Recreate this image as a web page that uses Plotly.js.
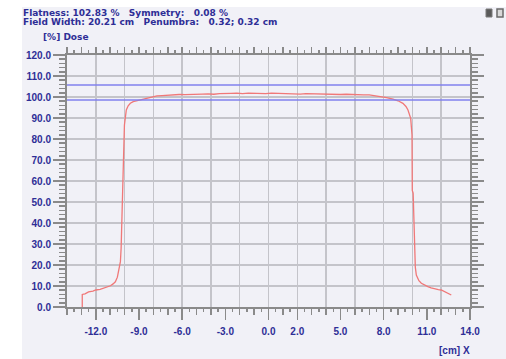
<!DOCTYPE html>
<html>
<head>
<meta charset="utf-8">
<script src="https://cdn.plot.ly/plotly-3.0.1.min.js"></script>
<style>
  html, body { margin: 0; padding: 0; background: #ffffff; }
  #chart { width: 506px; height: 359px; }
</style>
</head>
<body>
<div id="chart"></div>
<script>
// Beam profile: off-axis position (cm) and relative dose (%)
const profilePos = [
  -12.94, -12.94, -12.75, -12.5, -12.2, -12.0, -11.7, -11.45, -11.2, -10.98, -10.8, -10.64,
  -10.5, -10.41, -10.29, -10.24, -10.17, -10.13, -10.06, -10.01, -9.94, -9.88, -9.75, -9.6,
  -9.4, -9.13, -8.8, -8.44, -8.1, -7.75, -7.4, -7.0, -6.6, -6.2, -5.8, -5.4, -5.0, -4.6,
  -4.2, -3.8, -3.4, -3.0, -2.6, -2.2, -1.8, -1.4, -1.0, -0.6, -0.2, 0.2, 0.6, 1.0, 1.4,
  1.8, 2.2, 2.6, 3.0, 3.4, 3.8, 4.2, 4.6, 5.0, 5.4, 5.8, 6.2, 6.6, 7.0, 7.35, 7.73, 8.2,
  8.65, 9.0, 9.34, 9.55, 9.69, 9.8, 9.88, 9.97, 9.99, 10.05, 10.1, 10.15, 10.2, 10.27,
  10.45, 10.62, 10.85, 11.07, 11.3, 11.54, 11.8, 12.0, 12.35, 12.7
];
const profileDose = [
  0.0, 6.0, 6.3, 7.2, 7.6, 8.1, 8.4, 8.9, 9.4, 10.1, 11.0, 12.0,
  14.2, 16.8, 21.6, 28.0, 42.0, 59.7, 74.0, 86.7, 91.5, 93.8, 95.8, 97.0,
  97.8, 98.3, 98.9, 99.4, 100.0, 100.5, 100.7, 100.9, 101.0, 101.2, 101.1, 101.3, 101.2, 101.4,
  101.5, 101.3, 101.6, 101.5, 101.7, 101.8, 101.6, 101.8, 101.7, 101.9, 101.6, 101.8, 101.7, 101.5, 101.7,
  101.6, 101.4, 101.6, 101.5, 101.3, 101.4, 101.2, 101.3, 101.2, 101.3, 101.1, 101.2, 101.0, 101.0, 100.7, 100.3, 99.7,
  99.0, 98.2, 97.0, 95.5, 93.8, 91.8, 89.8, 81.9, 55.5, 54.2, 40.0, 24.8, 19.0, 15.2,
  12.5, 11.3, 10.4, 9.7, 9.1, 8.6, 8.3, 8.1, 7.0, 5.7
];

// Tolerance band limits (%)
const bandLevels = [105.7, 98.6];

// Axis tick labels
const xTickVals = [-12, -9, -6, -3, 0, 2, 5, 8, 11, 14];
const xTickText = ['-12.0', '-9.0', '-6.0', '-3.0', '0.0', '2.0', '5.0', '8.0', '11.0', '14.0'];
const yTickVals = [0, 10, 20, 30, 40, 50, 60, 70, 80, 90, 100, 110, 120];
const yTickText = ['0.0', '10.0', '20.0', '30.0', '40.0', '50.0', '60.0', '70.0', '80.0', '90.0', '100.0', '110.0', '120.0'];

// Header statistics
const NB = '\u00A0';
const headerLines = [
  'Flatness: 102.83 %' + NB + NB + NB + 'Symmetry:' + NB + NB + NB + '0.08 %',
  'Field Width: 20.21 cm' + NB + NB + NB + 'Penumbra:' + NB + NB + NB + '0.32; 0.32 cm'
];

const TEXT = '#2e2e96';
const AXIS = '#8a8a8a';
const GRID = '#c4c4ca';
const BG = '#f1f1f7';
const FONT = 'Liberation Sans, Arial, sans-serif';
const HFONT = 'DejaVu Sans, sans-serif';

const W = 506, H = 359;
const M = { l: 67, r: 36, t: 55, b: 52 };
const pw = W - M.l - M.r, ph = H - M.t - M.b;
// pixel -> paper coordinate helpers for decorations outside the plot area
const px = v => (v - M.l) / pw;
const py = v => (H - M.b - v) / ph;

const traces = [
  {
    x: profilePos, y: profileDose, type: 'scatter', mode: 'lines',
    line: { color: '#f07878', width: 1.3 }, xaxis: 'x', yaxis: 'y',
    hoverinfo: 'skip', showlegend: false
  },
  {
    x: [], y: [], type: 'scatter', mode: 'lines', xaxis: 'x2', yaxis: 'y',
    hoverinfo: 'skip', showlegend: false
  }
];

const shapes = [
  // frame background
  { type: 'rect', xref: 'paper', yref: 'paper', layer: 'below',
    x0: px(22), x1: px(506), y0: py(359), y1: py(7),
    fillcolor: BG, line: { width: 0 } },
  // window icons
  { type: 'rect', xref: 'paper', yref: 'paper',
    x0: px(486), x1: px(492), y0: py(17), y1: py(9),
    fillcolor: '#5a5a5a', line: { color: '#7a7a7a', width: 1 } },
  { type: 'rect', xref: 'paper', yref: 'paper',
    x0: px(497), x1: px(503), y0: py(17), y1: py(9),
    fillcolor: '#d8d8d8', line: { color: '#6a6a6a', width: 1.5 } }
];
bandLevels.forEach(v => shapes.push({
  type: 'line', xref: 'paper', yref: 'y', x0: 0, x1: 1, y0: v, y1: v,
  line: { color: '#8080ee', width: 1.6 }
}));

const annotations = [
  { text: headerLines[0], x: px(21), y: py(13.5), xanchor: 'left', yanchor: 'middle',
    font: { family: HFONT, size: 9, color: TEXT, weight: 'bold' } },
  { text: headerLines[1], x: px(21), y: py(22), xanchor: 'left', yanchor: 'middle',
    font: { family: HFONT, size: 9, color: TEXT, weight: 'bold' } },
  { text: '[%] Dose', x: px(41), y: py(37), xanchor: 'left', yanchor: 'middle',
    font: { family: HFONT, size: 9, color: TEXT, weight: 'bold' } },
  { text: '[cm] X', x: px(472), y: py(350), xanchor: 'right', yanchor: 'middle' }
].map(a => Object.assign({
  xref: 'paper', yref: 'paper', showarrow: false,
  font: { family: FONT, size: 10, color: TEXT, weight: 'bold' }
}, a));

const layout = {
  width: W, height: H,
  margin: M,
  paper_bgcolor: '#ffffff',
  plot_bgcolor: BG,
  showlegend: false,
  font: { family: FONT, size: 10, color: TEXT },
  xaxis: {
    range: [-14, 14], tickmode: 'array', tickvals: xTickVals, ticktext: xTickText,
    ticks: 'outside', ticklen: 11, tickwidth: 1.5, tickcolor: AXIS,
    ticklabelstandoff: 3,
    tickfont: { family: FONT, size: 10, color: TEXT, weight: 'bold' },
    showgrid: false, zeroline: false,
    showline: true, linecolor: AXIS, linewidth: 2, mirror: true,
    minor: { tick0: 0, dtick: 2, showgrid: true, gridcolor: GRID, gridwidth: 1.5, ticks: '' }
  },
  xaxis2: {
    range: [-14, 14], overlaying: 'x', anchor: 'y', side: 'bottom',
    tick0: 0, dtick: 1, ticks: 'outside', ticklen: 7, tickwidth: 1.5, tickcolor: AXIS,
    showticklabels: false, showgrid: false, zeroline: false, showline: false, mirror: 'ticks',
    minor: { tick0: 0, dtick: 0.5, ticks: 'outside', ticklen: 4, tickwidth: 1.5, tickcolor: AXIS, showgrid: false }
  },
  yaxis: {
    range: [0, 120], tickmode: 'array', tickvals: yTickVals, ticktext: yTickText,
    ticks: 'outside', ticklen: 12, tickwidth: 1.5, tickcolor: AXIS,
    tickfont: { family: FONT, size: 10, color: TEXT, weight: 'bold' },
    showgrid: true, gridcolor: GRID, gridwidth: 1.5, zeroline: false,
    showline: true, linecolor: AXIS, linewidth: 2, mirror: 'ticks',
    minor: { tick0: 0, dtick: 2, ticks: 'outside', ticklen: 6, tickwidth: 1.5, tickcolor: AXIS, showgrid: false }
  },
  shapes: shapes,
  annotations: annotations
};

Plotly.newPlot('chart', traces, layout, { displayModeBar: false, staticPlot: true });
</script>
</body>
</html>
